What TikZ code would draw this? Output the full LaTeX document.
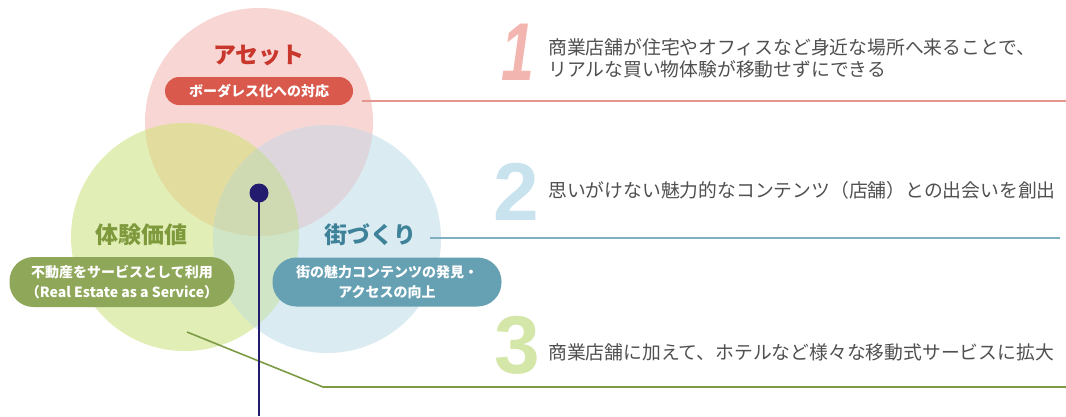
\documentclass[tikz,border=0pt]{standalone}
\usepackage{fontspec}
\setmainfont{Noto Sans CJK JP}
\newfontfamily\numfont{Liberation Sans}
\definecolor{cR}{HTML}{F8D6D4}
\definecolor{cG}{HTML}{E1EEB5}
\definecolor{cB}{HTML}{DAEBF2}
\definecolor{cRG}{HTML}{E2DC9E}
\definecolor{cRB}{HTML}{DDD6DC}
\definecolor{cGB}{HTML}{CFE5C6}
\definecolor{cRGB}{HTML}{CFDAB2}
\definecolor{hdR}{HTML}{C9372C}
\definecolor{hdG}{HTML}{7E9A3C}
\definecolor{hdB}{HTML}{3E8299}
\definecolor{pillR}{HTML}{D9594C}
\definecolor{pillG}{HTML}{8FA758}
\definecolor{pillB}{HTML}{66A0B3}
\definecolor{lnR}{HTML}{E3978F}
\definecolor{lnB}{HTML}{7FB0C0}
\definecolor{lnG}{HTML}{7D9A45}
\definecolor{numR}{HTML}{F2B5AF}
\definecolor{numB}{HTML}{C8E2EE}
\definecolor{numG}{HTML}{D4E6A8}
\definecolor{navy}{HTML}{231C6E}
\definecolor{txt}{HTML}{505050}
\def\circR{(259,122) circle[radius=114pt]}
\def\circG{(185,237) circle[radius=114pt]}
\def\circB{(327,239) circle[radius=114pt]}
\tikzset{
  header/.style={inner sep=0pt, font=\fontsize{23}{26}\selectfont\bfseries},
  pill/.style={inner sep=0pt, rounded corners=#1, text=white, align=center,
     font=\fontsize{14}{20}\selectfont\bfseries},
  desc/.style={inner sep=0pt, anchor=west, align=left, text=txt,
     font=\fontsize{18.8}{22}\selectfont},
  bignum/.style={inner sep=0pt, font=\numfont\fontsize{82}{82}\selectfont\bfseries},
  conn/.style={line width=1.6pt}
}
\begin{document}
\begin{tikzpicture}[x=1pt,y=-1pt]
\useasboundingbox (0,0) rectangle (1066,416);
\fill[white] (0,0) rectangle (1066,416);
% circles
\fill[cR] \circR;
\fill[cG] \circG;
\fill[cB] \circB;
\begin{scope}\clip \circR; \fill[cRG] \circG; \end{scope}
\begin{scope}\clip \circR; \fill[cRB] \circB; \end{scope}
\begin{scope}\clip \circG; \fill[cGB] \circB; \end{scope}
\begin{scope}\clip \circR; \clip \circG; \fill[cRGB] \circB; \end{scope}
% headers
\node[header, text=hdR] (asset) at (259,55) {アセット};
\node[header, text=hdG] (taiken) at (141,235) {体験価値};
\node[header, text=hdB] (machi) at (370,235) {街づくり};
% pills
\node[pill=14pt, fill=pillR, minimum width=188pt, minimum height=28pt] (pR) at (259,91) {ボーダレス化への対応};
\node[pill=24pt, fill=pillG, minimum width=225pt, minimum height=50pt] (pG) at (122,282) {不動産をサービスとして利用\\（Real Estate as a Service）};
\node[pill=24pt, fill=pillB, minimum width=229pt, minimum height=49pt] (pB) at (387,282) {街の魅力コンテンツの発見・\\アクセスの向上};
% numbers
\node[bignum, text=numR, xscale=0.72] (n1) at (518,52) {\itshape 1};
\node[bignum, text=numB] (n2) at (516,192) {2};
\node[bignum, text=numG] (n3) at (517,345) {3};
% descriptions
\node[desc] (d1) at (548,58) {商業店舗が住宅やオフィスなど身近な場所へ来ることで、\\リアルな買い物体験が移動せずにできる};
\node[desc] (d2) at (548,190) {思いがけない魅力的なコンテンツ（店舗）との出会いを創出};
\node[desc] (d3) at (548,352) {商業店舗に加えて、ホテルなど様々な移動式サービスに拡大};
% connectors
\coordinate (rS) at (362,101);
\coordinate (rE) at (1066,101);
\coordinate (bS) at (430,238);
\coordinate (bE) at (1060,238);
\coordinate (gS) at (187,332);
\coordinate (gK) at (323,387);
\coordinate (gE) at (1066,387);
\coordinate (vE) at (259,416);
\draw[conn, lnR] (rS) -- (rE);
\draw[conn, lnB] (bS) -- (bE);
\draw[conn, lnG] (gS) -- (gK) -- (gE);
\node[circle, fill=navy, inner sep=0pt, minimum size=19pt] (dot) at (259,193) {};
\draw[navy, line width=2.6pt] (dot.center) -- (vE);
\end{tikzpicture}
\end{document}
